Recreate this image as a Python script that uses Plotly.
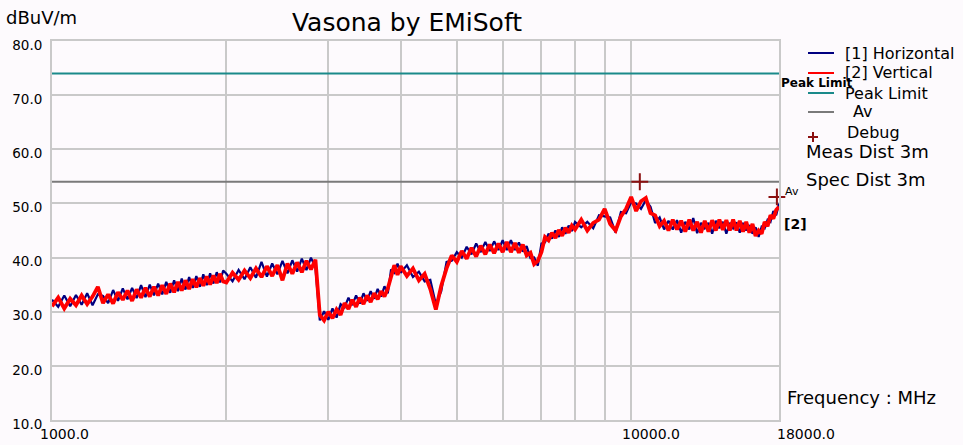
import math
import plotly.graph_objects as go

# Sweep grid (MHz) shared by both polarisations
FREQ_MHZ = (list(range(1000, 2000, 25)) + list(range(2000, 4000, 50))
            + list(range(4000, 8000, 100)) + list(range(8000, 18000, 200)) + [18000])

# [2] Vertical polarisation, dBuV/m
VERTICAL = [
    # 1000 - 1975 MHz
    31.0, 32.6, 30.6, 32.4, 31.2, 33.0, 31.4, 32.8, 34.6, 31.6,
    33.2, 31.5, 33.6, 32.2, 33.9, 32.0, 34.1, 32.6, 34.4, 32.8,
    34.6, 33.0, 34.9, 33.3, 35.2, 33.6, 35.5, 33.9, 35.8, 34.2,
    36.0, 34.5, 36.2, 34.8, 36.5, 35.0, 36.7, 35.3, 37.0, 35.6,
    # 2000 - 3950 MHz
    35.4, 37.2, 35.9, 37.6, 36.2, 38.0, 36.4, 38.4, 36.6, 38.6,
    35.8, 38.9, 37.0, 39.1, 37.3, 39.4, 37.8, 39.6, 29.4, 28.4,
    30.0, 28.8, 30.4, 29.4, 31.6, 30.5, 32.2, 30.9, 32.6, 31.4,
    33.0, 31.8, 33.4, 32.3, 33.8, 32.8, 34.3, 36.4, 38.6, 36.8,
    # 4000 - 7900 MHz
    38.4, 36.6, 38.0, 35.8, 37.0, 34.2, 30.4, 34.8, 38.0, 40.4,
    39.2, 41.2, 39.8, 41.8, 40.2, 42.2, 40.6, 42.4, 40.8, 42.6,
    41.0, 42.9, 41.0, 42.7, 40.9, 42.4, 40.4, 40.9, 38.8, 39.4,
    41.0, 43.8, 43.2, 44.6, 43.6, 45.1, 44.0, 45.5, 44.6, 45.9,
    # 8000 - 18000 MHz
    45.2, 47.0, 45.0, 46.4, 47.0, 49.0, 46.2, 45.0, 47.6, 49.0,
    51.2, 48.6, 50.4, 51.0, 48.2, 47.8, 45.8, 46.8, 45.0, 47.0,
    45.2, 46.8, 44.8, 47.0, 45.0, 46.6, 44.6, 46.8, 44.8, 46.9,
    45.0, 47.0, 45.1, 46.9, 45.0, 47.0, 45.0, 46.8, 44.8, 46.6,
    44.6, 46.2, 44.0, 45.0, 44.4, 46.6, 45.8, 47.8, 47.2, 48.8,
    49.4,
]

# [1] Horizontal polarisation, dBuV/m
HORIZONTAL = [
    # 1000 - 1975 MHz
    32.2, 30.9, 33.0, 31.0, 33.1, 31.3, 33.4, 31.2, 33.2, 32.9,
    31.6, 34.0, 32.0, 34.3, 32.3, 34.4, 32.5, 34.9, 32.7, 35.0,
    33.0, 35.2, 33.2, 35.5, 33.5, 35.8, 33.8, 36.1, 34.1, 36.4,
    34.4, 36.6, 34.6, 36.9, 34.9, 37.1, 35.2, 37.3, 35.4, 37.6,
    # 2000 - 3950 MHz
    37.0, 35.6, 37.7, 36.0, 38.2, 36.3, 39.2, 36.5, 38.9, 36.9,
    39.4, 37.1, 39.5, 37.4, 39.8, 37.7, 40.0, 38.1, 28.4, 30.1,
    28.5, 30.6, 28.9, 31.4, 30.8, 32.6, 31.2, 33.0, 31.5, 33.4,
    32.0, 33.8, 32.4, 34.2, 32.8, 34.7, 33.4, 37.8, 37.2, 38.9,
    # 4000 - 7900 MHz
    37.2, 38.6, 36.4, 37.4, 35.6, 35.9, 31.4, 33.8, 39.2, 39.4,
    41.0, 40.0, 42.0, 40.6, 42.6, 41.0, 42.9, 41.2, 43.0, 41.4,
    43.2, 41.4, 43.2, 41.4, 42.8, 41.1, 42.1, 39.9, 40.0, 38.5,
    42.6, 42.8, 44.4, 43.5, 45.0, 43.8, 45.6, 44.4, 45.9, 44.9,
    # 8000 - 18000 MHz
    46.6, 45.6, 46.6, 45.4, 47.8, 47.6, 47.4, 44.6, 48.4, 48.2,
    50.2, 50.0, 49.0, 50.6, 49.4, 46.4, 47.4, 45.2, 46.8, 45.2,
    46.9, 44.6, 46.6, 45.2, 47.3, 44.5, 46.4, 45.4, 46.4, 44.4,
    46.8, 45.4, 46.6, 44.4, 46.4, 45.4, 46.5, 44.6, 46.4, 45.0,
    46.0, 44.4, 45.6, 43.8, 45.7, 45.4, 47.0, 46.6, 48.6, 47.8,
    50.0,
]

assert len(FREQ_MHZ) == len(VERTICAL) == len(HORIZONTAL)

# Limit lines
LIMIT_FREQ = [1000, 18000]
PEAK_LIMIT = [74.0, 74.0]
AV_LIMIT = [54.0, 54.0]

# Debug markers
DEBUG_FREQ = [10350, 17850]
DEBUG_LEVEL = [54.0, 51.2]

# Frequency axis: gridlines at every tick, text only on a few
X_GRID = [1000, 2000, 3000, 4000, 5000, 6000, 7000, 8000, 9000, 10000, 18000]
X_LABELS = [(1000, "1000.0", -14), (10000, "10000.0", -11), (18000, "18000.0", -4)]

FONT = "DejaVu Sans"
BG = "#FDFAFD"
GRID = "#C9C9C9"

# plot area in pixels
L, R, T, B = 52, 779, 41, 420


def px(x):
    return (x - L) / (R - L)


def py(y):
    return (B - y) / (B - T)


fig = go.Figure()

fig.add_trace(go.Scatter(x=FREQ_MHZ, y=HORIZONTAL, mode="lines",
                         line=dict(color="#000080", width=2.2), name="[1] Horizontal"))
fig.add_trace(go.Scatter(x=FREQ_MHZ, y=VERTICAL, mode="lines",
                         line=dict(color="#FF0000", width=3.8), name="[2] Vertical"))
fig.add_trace(go.Scatter(x=LIMIT_FREQ, y=PEAK_LIMIT, mode="lines",
                         line=dict(color="#1A8A8A", width=2), name="Peak Limit"))
fig.add_trace(go.Scatter(x=LIMIT_FREQ, y=AV_LIMIT, mode="lines",
                         line=dict(color="#7A7A7A", width=2), name="Av"))
fig.add_trace(go.Scatter(x=DEBUG_FREQ, y=DEBUG_LEVEL, mode="markers", name="Debug",
                         marker=dict(symbol="cross-thin", size=12,
                                     line=dict(color="#8B1010", width=2)),
                         cliponaxis=False))

shapes = []
annotations = []

# legend block to the right of the plot
legend_rows = [
    ("[1] Horizontal", "#000080", 53),
    ("[2] Vertical", "#FF0000", 73),
    ("Peak Limit", "#1A8A8A", 93),
    ("Av", "#7A7A7A", 112),
]
for label, color, y in legend_rows:
    shapes.append(dict(type="line", xref="paper", yref="paper",
                       x0=px(808), x1=px(834), y0=py(y), y1=py(y),
                       line=dict(color=color, width=2)))
    annotations.append(dict(text=label, xref="paper", yref="paper",
                            x=px(843 if label != "Av" else 851), y=py(y),
                            xanchor="left", yanchor="middle", showarrow=False,
                            font=dict(family=FONT, size=16, color="black")))

# Debug legend entry: small cross
shapes.append(dict(type="line", xref="paper", yref="paper",
                   x0=px(808), x1=px(818), y0=py(137), y1=py(137),
                   line=dict(color="#8B1010", width=2)))
shapes.append(dict(type="line", xref="paper", yref="paper",
                   x0=px(813), x1=px(813), y0=py(132), y1=py(142),
                   line=dict(color="#8B1010", width=2)))
annotations.append(dict(text="Debug", xref="paper", yref="paper",
                        x=px(845), y=py(132), xanchor="left", yanchor="middle",
                        showarrow=False, font=dict(family=FONT, size=16, color="black")))

for text, y in [("Meas Dist 3m", 151), ("Spec Dist 3m", 179)]:
    annotations.append(dict(text=text, xref="paper", yref="paper",
                            x=px(804), y=py(y), xanchor="left", yanchor="middle",
                            showarrow=False, font=dict(family=FONT, size=18, color="black")))

# trace end labels
annotations.append(dict(text="<b>Peak Limit</b>", xref="paper", yref="paper",
                        x=px(779), y=py(83), xanchor="left", yanchor="middle",
                        showarrow=False, font=dict(family=FONT, size=12, color="black")))
annotations.append(dict(text="Av", xref="paper", yref="paper",
                        x=px(783), y=py(192), xanchor="left", yanchor="middle",
                        showarrow=False, font=dict(family=FONT, size=11, color="black")))
annotations.append(dict(text="<b>[2]</b>", xref="paper", yref="paper",
                        x=px(782), y=py(224), xanchor="left", yanchor="middle",
                        showarrow=False, font=dict(family=FONT, size=14, color="black")))

# axis captions
annotations.append(dict(text="dBuV/m", xref="paper", yref="paper",
                        x=px(4), y=py(17), xanchor="left", yanchor="middle",
                        showarrow=False, font=dict(family=FONT, size=18, color="black")))
annotations.append(dict(text="Frequency : MHz", xref="paper", yref="paper",
                        x=px(785), y=py(397), xanchor="left", yanchor="middle",
                        showarrow=False, font=dict(family=FONT, size=18, color="black")))

# frequency tick labels placed on the log axis
for f, text, shift in X_LABELS:
    annotations.append(dict(text=text, xref="x", yref="paper",
                            x=math.log10(f), y=py(434), xshift=shift,
                            xanchor="left", yanchor="middle", showarrow=False,
                            font=dict(family=FONT, size=14, color="black")))

fig.update_layout(
    width=963, height=445,
    margin=dict(l=L, r=963 - R, t=T, b=445 - B, autoexpand=False),
    paper_bgcolor=BG, plot_bgcolor=BG,
    showlegend=False,
    title=dict(text="Vasona by EMiSoft", x=407 / 963, xanchor="center",
               y=1 - 22 / 445, yanchor="middle",
               font=dict(family=FONT, size=25, color="black")),
    shapes=shapes, annotations=annotations,
)

fig.update_xaxes(
    type="log", range=[3, math.log10(18000)],
    tickvals=X_GRID, showticklabels=False,
    showgrid=True, gridcolor=GRID, gridwidth=2,
    showline=True, linecolor=GRID, linewidth=2, mirror=True,
    ticks="", zeroline=False,
)
fig.update_yaxes(
    range=[10, 80], tick0=10, dtick=10, tickformat=".1f",
    showgrid=True, gridcolor=GRID, gridwidth=2,
    showline=True, linecolor=GRID, linewidth=2, mirror=True,
    ticks="", zeroline=False, ticklabelshift=4, ticklabelstandoff=5,
    tickfont=dict(family=FONT, size=13.5, color="black"),
)

fig.write_html("out.html")
